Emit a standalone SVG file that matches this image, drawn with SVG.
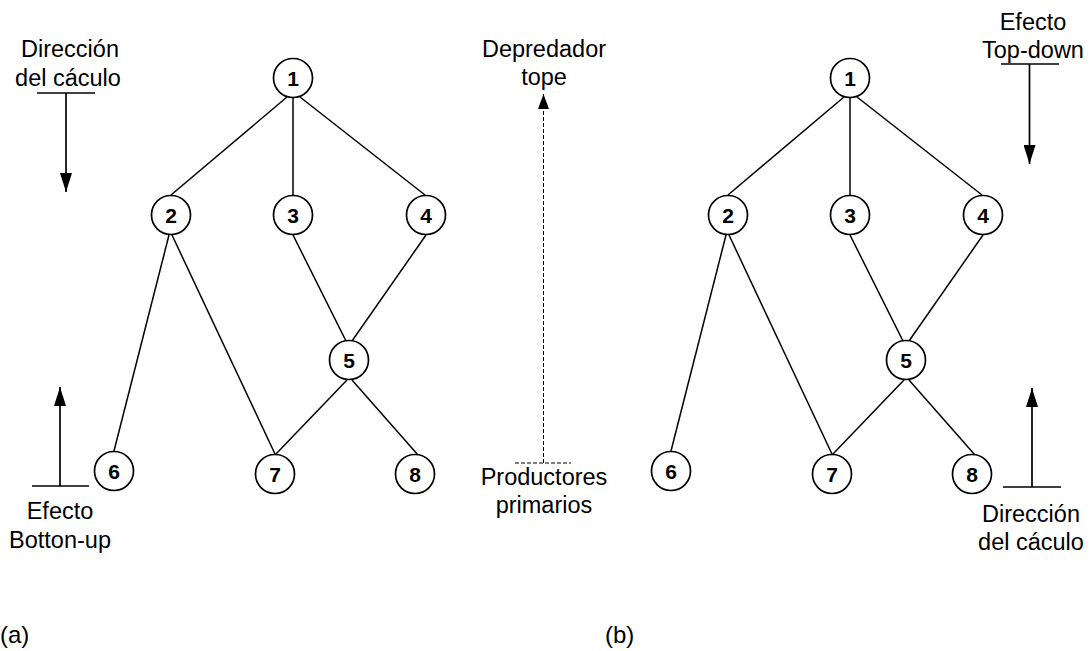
<svg xmlns="http://www.w3.org/2000/svg" width="1092" height="651" viewBox="0 0 1092 651">
  <style>
    .bg { fill: #ffffff; }
    .node circle { fill: #ffffff; stroke: #000000; stroke-width: 1.7; }
    .node text { font-family: "Liberation Sans", Arial, sans-serif; font-size: 21px; font-weight: bold; text-anchor: middle; fill: #000000; }
    .edge { stroke: #000000; stroke-width: 1.5; fill: none; }
    .axis { stroke: #000000; stroke-width: 1.7; fill: none; }
    .dash { stroke: #000000; stroke-width: 1; stroke-dasharray: 4 2; fill: none; }
    .lbl { font-family: "Liberation Sans", Arial, sans-serif; font-size: 23.5px; fill: #000000; text-anchor: middle; }
    .cap { font-family: "Liberation Sans", Arial, sans-serif; font-size: 24px; fill: #000000; }
  </style>
  <defs>
    <marker id="head" markerUnits="userSpaceOnUse" markerWidth="20" markerHeight="12" refX="19" refY="6" orient="auto">
      <path d="M0,0 L19,6 L0,12 Z" fill="#000000"/>
    </marker>
    <marker id="headSmall" markerUnits="userSpaceOnUse" markerWidth="16" markerHeight="12" refX="15" refY="5.5" orient="auto">
      <path d="M0,0 L15,5.5 L0,11 Z" fill="#000000"/>
    </marker>
  </defs>

  <rect class="bg" x="0" y="0" width="1092" height="651"/>

  <!-- graph (a) connectors -->
  <g id="connectors-a">
    <line class="edge" x1="287" y1="97" x2="171" y2="195"/>
    <line class="edge" x1="293" y1="98" x2="293" y2="195"/>
    <line class="edge" x1="300" y1="97" x2="425" y2="195"/>
    <line class="edge" x1="169" y1="235" x2="114" y2="451"/>
    <line class="edge" x1="172" y1="235" x2="275" y2="454"/>
    <line class="edge" x1="293" y1="235" x2="346" y2="341"/>
    <line class="edge" x1="426" y1="235" x2="352" y2="341"/>
    <line class="edge" x1="347" y1="380" x2="275" y2="455"/>
    <line class="edge" x1="352" y1="380" x2="418" y2="455"/>
  </g>

  <!-- graph (a) nodes -->
  <g id="a-n1" class="node"><circle cx="293" cy="78" r="19.5"/><text x="293" y="85.5">1</text></g>
  <g id="a-n2" class="node"><circle cx="171" cy="215" r="19.5"/><text x="171" y="222.5">2</text></g>
  <g id="a-n3" class="node"><circle cx="293" cy="215" r="19.5"/><text x="293" y="222.5">3</text></g>
  <g id="a-n4" class="node"><circle cx="426" cy="215" r="19.5"/><text x="426" y="222.5">4</text></g>
  <g id="a-n5" class="node"><circle cx="349" cy="360" r="19.5"/><text x="349" y="367.5">5</text></g>
  <g id="a-n6" class="node"><circle cx="114" cy="471" r="19.5"/><text x="114" y="478.5">6</text></g>
  <g id="a-n7" class="node"><circle cx="275" cy="474" r="19.5"/><text x="275" y="481.5">7</text></g>
  <g id="a-n8" class="node"><circle cx="415" cy="474" r="19.5"/><text x="415" y="481.5">8</text></g>

  <!-- graph (b) connectors -->
  <g id="connectors-b" transform="translate(557,0)">
    <line class="edge" x1="287" y1="97" x2="171" y2="195"/>
    <line class="edge" x1="293" y1="98" x2="293" y2="195"/>
    <line class="edge" x1="300" y1="97" x2="425" y2="195"/>
    <line class="edge" x1="169" y1="235" x2="114" y2="451"/>
    <line class="edge" x1="172" y1="235" x2="275" y2="454"/>
    <line class="edge" x1="293" y1="235" x2="346" y2="341"/>
    <line class="edge" x1="426" y1="235" x2="352" y2="341"/>
    <line class="edge" x1="347" y1="380" x2="275" y2="455"/>
    <line class="edge" x1="352" y1="380" x2="418" y2="455"/>
  </g>

  <!-- graph (b) nodes -->
  <g id="b-n1" class="node"><circle cx="850" cy="78" r="19.5"/><text x="850" y="85.5">1</text></g>
  <g id="b-n2" class="node"><circle cx="728" cy="215" r="19.5"/><text x="728" y="222.5">2</text></g>
  <g id="b-n3" class="node"><circle cx="850" cy="215" r="19.5"/><text x="850" y="222.5">3</text></g>
  <g id="b-n4" class="node"><circle cx="983" cy="215" r="19.5"/><text x="983" y="222.5">4</text></g>
  <g id="b-n5" class="node"><circle cx="906" cy="360" r="19.5"/><text x="906" y="367.5">5</text></g>
  <g id="b-n6" class="node"><circle cx="671" cy="471" r="19.5"/><text x="671" y="478.5">6</text></g>
  <g id="b-n7" class="node"><circle cx="832" cy="474" r="19.5"/><text x="832" y="481.5">7</text></g>
  <g id="b-n8" class="node"><circle cx="972" cy="474" r="19.5"/><text x="972" y="481.5">8</text></g>

  <!-- left side: calculation direction (down) and bottom-up effect (up) -->
  <g id="a-direction">
    <text class="lbl" x="70" y="57">Dirección</text>
    <text class="lbl" x="68" y="86">del cáculo</text>
    <line class="axis" x1="37" y1="93" x2="95" y2="93"/>
    <line class="axis" x1="66" y1="93" x2="66" y2="192" marker-end="url(#head)"/>
  </g>
  <g id="a-bottomup">
    <line class="axis" x1="32" y1="486" x2="89" y2="486"/>
    <line class="axis" x1="60" y1="486" x2="60" y2="387" marker-end="url(#head)"/>
    <text class="lbl" x="60" y="519">Efecto</text>
    <text class="lbl" x="60" y="548">Botton-up</text>
  </g>

  <!-- middle: trophic axis -->
  <g id="trophic-axis">
    <text class="lbl" x="544" y="57">Depredador</text>
    <text class="lbl" x="544" y="85">tope</text>
    <line class="dash" x1="515" y1="463" x2="571" y2="463"/>
    <line class="dash" x1="543.5" y1="463" x2="543.5" y2="94" marker-end="url(#headSmall)"/>
    <text class="lbl" x="544" y="485">Productores</text>
    <text class="lbl" x="544" y="513">primarios</text>
  </g>

  <!-- right side: top-down effect (down) and calculation direction (up) -->
  <g id="b-topdown">
    <text class="lbl" x="1033" y="30">Efecto</text>
    <text class="lbl" x="1033" y="58">Top-down</text>
    <line class="axis" x1="1001" y1="64" x2="1059" y2="64"/>
    <line class="axis" x1="1029.5" y1="64" x2="1029.5" y2="164" marker-end="url(#head)"/>
  </g>
  <g id="b-direction">
    <line class="axis" x1="1003" y1="487" x2="1061" y2="487"/>
    <line class="axis" x1="1032" y1="487" x2="1032" y2="388" marker-end="url(#head)"/>
    <text class="lbl" x="1031" y="522">Dirección</text>
    <text class="lbl" x="1031" y="550">del cáculo</text>
  </g>

  <!-- panel captions -->
  <text class="cap" x="0" y="643">(a)</text>
  <text class="cap" x="605" y="643">(b)</text>
</svg>
